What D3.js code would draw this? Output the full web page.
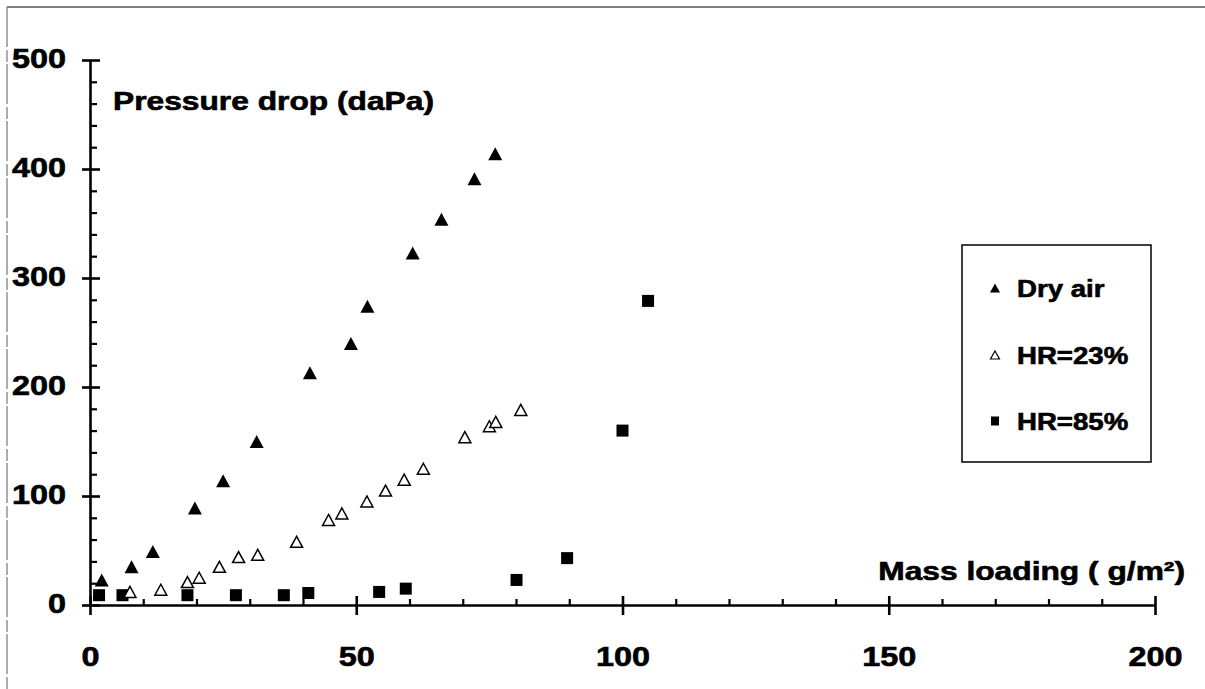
<!DOCTYPE html>
<html>
<head>
<meta charset="utf-8">
<script src="https://cdn.jsdelivr.net/npm/d3@7"></script>
<style>
  html, body { margin: 0; padding: 0; background: #fff; }
  svg { display: block; }
  text { font-family: "Liberation Sans", Arial, Helvetica, sans-serif; font-weight: bold; fill: #000;
         stroke: #000; stroke-width: 0.6px; }
</style>
</head>
<body>
<svg id="chart" width="1205" height="689"></svg>
<script>
// Pressure drop across the filter vs. mass loading, three humidity conditions
const dryX = [2.2, 7.8, 11.8, 19.7, 25.0, 31.3, 41.3, 49.0, 52.1, 60.6, 66.0, 72.2, 76.1];
const dryY = [23, 35, 49, 89, 114, 150, 213, 240, 274, 323, 354, 391, 414];

const hr23X = [7.5, 13.3, 18.3, 20.5, 24.3, 27.9, 31.5, 38.8, 44.8, 47.3, 52.0, 55.5, 59.0, 62.6, 70.4, 75.0, 76.2, 80.9];
const hr23Y = [12, 14, 21, 25, 35, 44, 46, 58, 78, 84, 95, 105, 115, 125, 154, 164, 168, 179];

const hr85X = [1.7, 6.1, 18.3, 27.4, 36.4, 41.0, 54.3, 59.3, 80.1, 89.6, 100.0, 104.8];
const hr85Y = [9, 9, 9, 9, 9, 11, 12, 15, 23, 43, 160, 279];

const xTicks = [0, 50, 100, 150, 200];
const yTicks = [0, 100, 200, 300, 400, 500];
const xMinor = [10, 20, 30, 40, 60, 70, 80, 90, 110, 120, 130, 140, 160, 170, 180, 190];
const yMinor = d3.range(20, 500, 20).filter(v => v % 100 !== 0);

const legendLabels = ["Dry air", "HR=23%", "HR=85%"];
const yTitle = "Pressure drop (daPa)";
const xTitle = "Mass loading ( g/m\u00B2)";

const svg = d3.select("#chart");

// plot geometry
const x0 = 90, x1 = 1155, yBottom = 605, yTop = 60;
const x = d3.scaleLinear().domain([0, 200]).range([x0, x1]);
const y = d3.scaleLinear().domain([0, 500]).range([yBottom, yTop]);

// page frame (top and left edges)
svg.append("line").attr("x1", 7).attr("y1", 7).attr("x2", 1205).attr("y2", 7)
  .attr("stroke", "#555").attr("stroke-width", 1.6);
svg.append("line").attr("x1", 7).attr("y1", 7).attr("x2", 7).attr("y2", 689)
  .attr("stroke", "#777").attr("stroke-width", 1.2).attr("stroke-dasharray", "40 3 12 2");

// text stretched horizontally, as in the printed figure
function wideText(parent, px, py, str, size, sx, anchor) {
  parent.append("text")
    .attr("transform", `translate(${px},${py}) scale(${sx},1)`)
    .attr("text-anchor", anchor || "start")
    .attr("font-size", size)
    .text(str);
}

// y axis: major ticks cross the line, minor ticks point right
const yAxisG = svg.append("g").attr("transform", `translate(${x0},0)`)
  .call(d3.axisLeft(y).tickValues(yTicks).tickSize(8).tickSizeOuter(0).tickFormat(d3.format("d")));
yAxisG.select(".domain").attr("stroke", "#000").attr("stroke-width", 2.6);
yAxisG.selectAll(".tick line").attr("x2", -8).attr("x1", 10).attr("stroke", "#000").attr("stroke-width", 2.6);
yAxisG.selectAll(".tick text")
  .attr("x", -24 / 1.2).attr("y", 7.5).attr("dy", null)
  .attr("transform", "scale(1.2,1)")
  .attr("font-size", 27).attr("font-family", null).attr("fill", "#000");

const yMinorG = svg.append("g").attr("transform", `translate(${x0},0)`)
  .call(d3.axisRight(y).tickValues(yMinor).tickSize(7).tickFormat(""));
yMinorG.select(".domain").remove();
yMinorG.selectAll(".tick line").attr("stroke", "#000").attr("stroke-width", 2.2);

// x axis: major ticks cross the line, minor ticks point up
const xAxisG = svg.append("g").attr("transform", `translate(0,${yBottom})`)
  .call(d3.axisBottom(x).tickValues(xTicks).tickSize(9).tickSizeOuter(0).tickFormat(d3.format("d")));
xAxisG.select(".domain").attr("stroke", "#000").attr("stroke-width", 2.6);
xAxisG.selectAll(".tick line").attr("y1", -9).attr("y2", 10).attr("stroke", "#000").attr("stroke-width", 2.6);
xAxisG.selectAll(".tick text")
  .attr("y", 61).attr("dy", null).attr("x", 0)
  .attr("transform", "scale(1.2,1)")
  .attr("font-size", 27).attr("font-family", null).attr("fill", "#000");

const xMinorG = svg.append("g").attr("transform", `translate(0,${yBottom})`)
  .call(d3.axisTop(x).tickValues(xMinor).tickSize(6).tickFormat(""));
xMinorG.select(".domain").remove();
xMinorG.selectAll(".tick line").attr("stroke", "#000").attr("stroke-width", 2.2);

// axis titles
wideText(svg, 113, 110, yTitle, 25, 1.27, "start");
wideText(svg, 1185, 580, xTitle, 25, 1.27, "end");

// marker shapes
function triPath(w, h) {
  return `M0,${-h / 2}L${w / 2},${h / 2}L${-w / 2},${h / 2}Z`;
}
const sq = 12;

const pts85 = hr85X.map((v, i) => [v, hr85Y[i]]);
const pts23 = hr23X.map((v, i) => [v, hr23Y[i]]);
const ptsDry = dryX.map((v, i) => [v, dryY[i]]);

svg.append("g").selectAll("rect").data(pts85).join("rect")
  .attr("x", d => x(d[0]) - sq / 2).attr("y", d => y(d[1]) - sq / 2)
  .attr("width", sq).attr("height", sq).attr("fill", "#000");

svg.append("g").selectAll("path").data(pts23).join("path")
  .attr("transform", d => `translate(${x(d[0])},${y(d[1])})`)
  .attr("d", triPath(12, 11))
  .attr("fill", "#fff").attr("stroke", "#000").attr("stroke-width", 1.5).attr("stroke-linejoin", "miter");

svg.append("g").selectAll("path").data(ptsDry).join("path")
  .attr("transform", d => `translate(${x(d[0])},${y(d[1])})`)
  .attr("d", triPath(14, 13))
  .attr("fill", "#000");

// legend
const lg = svg.append("g");
lg.append("rect").attr("x", 962).attr("y", 245).attr("width", 189).attr("height", 217)
  .attr("fill", "#fff").attr("stroke", "#000").attr("stroke-width", 1.5);
const rowY = [288, 355, 421];
lg.append("path").attr("transform", `translate(995,${rowY[0]})`).attr("d", triPath(10, 9)).attr("fill", "#000");
lg.append("path").attr("transform", `translate(995,${rowY[1]})`).attr("d", triPath(9, 8))
  .attr("fill", "#fff").attr("stroke", "#000").attr("stroke-width", 1.2);
lg.append("rect").attr("x", 991).attr("y", rowY[2] - 4.5).attr("width", 8).attr("height", 9).attr("fill", "#000");
legendLabels.forEach((t, i) => wideText(lg, 1017, rowY[i] + 9, t, 23, 1.2, "start"));
</script>
</body>
</html>
